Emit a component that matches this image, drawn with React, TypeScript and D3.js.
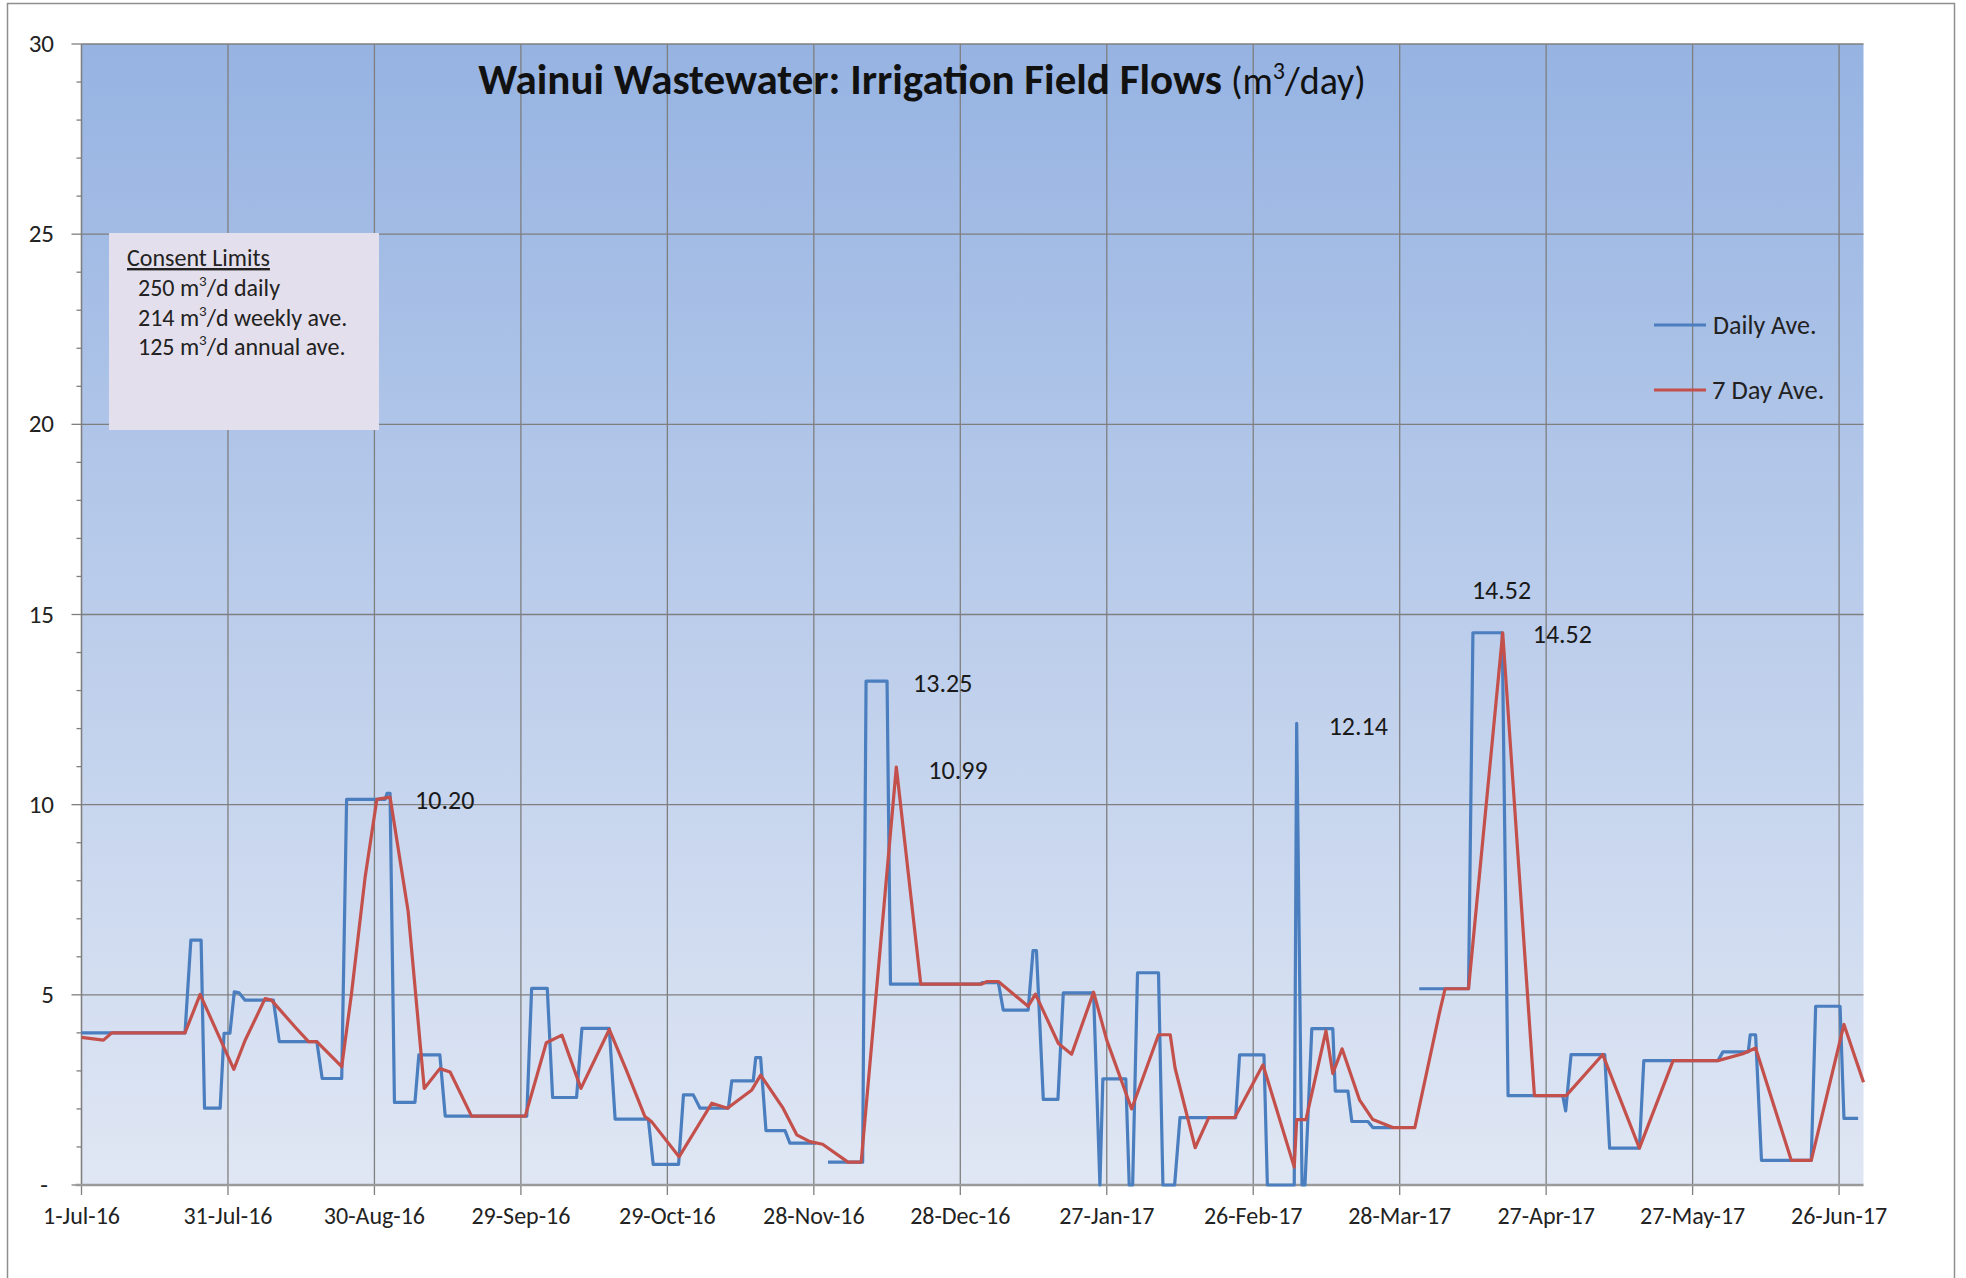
import React from "react";
import * as d3 from "d3";

// ---- data (day offsets from 1-Jul-16, values in m3/day) ----
const dailyDays = [0, 21.2, 22.4, 24.5, 25.2, 28.4, 29.2, 30.4, 31.3, 32.3, 33.5, 39.3, 40.5, 48.2, 49.3, 53.3, 54.3, 62.2, 62.6, 63.2, 64.1, 68.3, 69.1, 73.4, 74.5, 91.2, 92.2, 95.4, 96.5, 101.4, 102.5, 108.1, 109.3, 116.1, 117.1, 122.3, 123.3, 125.3, 126.7, 132.5, 133.2, 137.6, 138.1, 139.1, 140.2, 144.1, 145.1, 150.5, 151.7, 152.9, 160, 160.7, 165, 165.7, 184, 184.5, 187.8, 188.8, 193.9, 194.9, 195.6, 197, 200, 201.1, 207.3, 208.6, 209.2, 213.9, 214.6, 215.3, 216.3, 220.6, 221.5, 223.9, 225, 236.4, 237.2, 242.2, 242.9, 248.4, 248.9, 250, 250.6, 252, 256.3, 256.8, 259.4, 260.2, 263.5, 264.5, 268.6, 271, 274, 284.1, 285, 291, 292.2, 303.4, 304, 305.1, 312, 313, 319.1, 320, 335.2, 336.2, 341.4, 341.8, 342.9, 344.1, 354.3, 355.2, 360.2, 361, 363.9];
const dailyValues = [4.0, 4.0, 6.44, 6.44, 2.02, 2.02, 3.99, 3.99, 5.08, 5.05, 4.86, 4.86, 3.77, 3.77, 2.8, 2.8, 10.14, 10.14, 10.3, 10.3, 2.17, 2.17, 3.42, 3.42, 1.81, 1.81, 5.17, 5.17, 2.3, 2.3, 4.12, 4.12, 1.73, 1.73, 0.54, 0.54, 2.37, 2.37, 2.02, 2.02, 2.74, 2.74, 3.35, 3.35, 1.43, 1.43, 1.1, 1.1, null, 0.6, 0.6, 13.25, 13.25, 5.28, 5.28, 5.32, 5.32, 4.6, 4.6, 6.16, 6.16, 2.25, 2.25, 5.05, 5.05, 0, 2.79, 2.79, 0, 0, 5.58, 5.58, 0, 0, 1.77, 1.77, 3.42, 3.42, 0, 0, 12.14, 0, 0, 4.11, 4.11, 2.47, 2.47, 1.67, 1.67, 1.51, 1.51, null, 5.16, 5.16, 14.52, 14.52, 2.35, 2.35, 1.95, 3.43, 3.43, 0.97, 0.97, 3.27, 3.27, 3.5, 3.5, 3.95, 3.95, 0.65, 0.65, 4.7, 4.7, 1.75, 1.75];

const avgDays = [0, 4.5, 6.2, 21.2, 24.3, 31.2, 33.5, 37.6, 38.9, 43.7, 46.5, 48.2, 53.3, 55.3, 58.1, 60.5, 63.2, 66.9, 70.2, 73.4, 75.5, 79.9, 90.9, 95.2, 98.4, 102.3, 108.1, 111.6, 115.4, 116.8, 122.4, 129.1, 132.3, 137.3, 139.1, 143.7, 146.5, 149.2, 151.8, 157, 159.7, 166.9, 171.9, 184.3, 185.5, 187.8, 193.9, 195.4, 200.1, 202.8, 207.3, 210, 215.1, 220.6, 223, 224, 228.1, 230.9, 236.2, 242, 248.4, 248.9, 250.8, 254.9, 256.3, 258.2, 261.8, 264.5, 268.6, 273.1, 278.2, 279.3, 284.1, 291.1, 297.6, 304.1, 311.6, 319.1, 326, 335.2, 340.3, 342.9, 350.2, 354.3, 361, 365];
const avgValues = [3.88, 3.81, 4.0, 4.0, 5.01, 3.04, 3.8, 4.9, 4.86, 4.16, 3.77, 3.77, 3.11, 5.03, 8.1, 10.14, 10.2, 7.2, 2.54, 3.06, 2.97, 1.81, 1.81, 3.74, 3.94, 2.54, 4.09, 3.02, 1.8, 1.66, 0.74, 2.15, 2.02, 2.5, 2.89, 2.02, 1.32, 1.14, 1.07, 0.6, 0.6, 10.99, 5.28, 5.28, 5.35, 5.35, 4.7, 5.02, 3.72, 3.44, 5.07, 3.81, 2.0, 3.95, 3.95, 3.07, 0.98, 1.77, 1.77, 3.16, 0.47, 1.72, 1.72, 4.05, 2.93, 3.58, 2.23, 1.72, 1.51, 1.51, 4.56, 5.16, 5.16, 14.52, 2.35, 2.35, 3.43, 0.97, 3.27, 3.27, 3.45, 3.6, 0.65, 0.65, 4.22, 2.7];

const xTickDays = [0, 30, 60, 90, 120, 150, 180, 210, 240, 270, 300, 330, 360];
const xTickLabels = ["1-Jul-16", "31-Jul-16", "30-Aug-16", "29-Sep-16", "29-Oct-16", "28-Nov-16", "28-Dec-16", "27-Jan-17", "26-Feb-17", "28-Mar-17", "27-Apr-17", "27-May-17", "26-Jun-17"];
const yTicks = [0, 5, 10, 15, 20, 25, 30];
const yTickLabels = ["-", "5", "10", "15", "20", "25", "30"];
const yMinorTicks = [1, 2, 3, 4, 6, 7, 8, 9, 11, 12, 13, 14, 16, 17, 18, 19, 21, 22, 23, 24, 26, 27, 28, 29];

const dataLabels = [
  { day: 63.2, value: 10.2, text: "10.20", dx: 25, dy: 3 },
  { day: 165, value: 13.25, text: "13.25", dx: 26, dy: 2 },
  { day: 166.9, value: 10.99, text: "10.99", dx: 32, dy: 3 },
  { day: 248.9, value: 12.14, text: "12.14", dx: 32, dy: 3 },
  { day: 285, value: 14.52, text: "14.52", dx: -1, dy: -43 },
  { day: 291.1, value: 14.52, text: "14.52", dx: 30, dy: 1 },
];

const START = Date.UTC(2016, 6, 1);
const toDate = (d: number) => new Date(START + d * 86400000);

const W = 1966, H = 1278;
const PL = 81.5, PR = 1863.5, PT = 44, PB = 1185;
const FONT = "Carlito, Calibri, Lato, sans-serif";
const BLUE = "#4A7EBF";
const RED = "#C4504C";
const GRID = "#7f7f7f";

export default function App() {
  const x = d3.scaleUtc().domain([toDate(0), toDate(365)]).range([PL, PR]);
  const y = d3.scaleLinear().domain([0, 30]).range([PB, PT]);

  const daily = dailyDays.map((d, i) => [d, dailyValues[i]] as [number, number | null]);
  const avg = avgDays.map((d, i) => [d, avgValues[i]] as [number, number | null]);
  const line = d3
    .line<[number, number | null]>()
    .defined((p) => p[1] != null)
    .x((p) => x(toDate(p[0])))
    .y((p) => y(p[1] as number));

  return (
    <div style={{ position: "absolute", left: 0, top: 0 }}>
      <svg width={W} height={H} style={{ display: "block", fontFamily: FONT }}>
        <defs>
          <linearGradient id="bg" x1="0" y1="0" x2="0" y2="1">
            <stop offset="0" stopColor="#96B3E2" />
            <stop offset="1" stopColor="#E0E7F4" />
          </linearGradient>
        </defs>
        <rect x={0} y={0} width={W} height={H} fill="#fff" />
        <rect x={7.5} y={3.5} width={1947} height={1300} fill="none" stroke="#8e8e8e" strokeWidth={1.5} />
        <rect x={PL} y={PT} width={PR - PL} height={PB - PT} fill="url(#bg)" />

        {/* horizontal gridlines */}
        {yTicks.filter((t) => t > 0).map((t) => (
          <line key={"hg" + t} x1={PL} x2={PR} y1={y(t)} y2={y(t)} stroke={GRID} strokeWidth={1.3} />
        ))}
        {/* vertical gridlines + ticks */}
        {xTickDays.map((d) => (
          <line key={"vg" + d} x1={x(toDate(d))} x2={x(toDate(d))} y1={PT} y2={PB + 10} stroke={GRID} strokeWidth={1.3} />
        ))}
        {/* y axis */}
        <line x1={PL} x2={PL} y1={PT} y2={PB} stroke={GRID} strokeWidth={1.3} />
        {yTicks.map((t) => (
          <line key={"yt" + t} x1={PL - 10} x2={PL} y1={y(t)} y2={y(t)} stroke={GRID} strokeWidth={1.3} />
        ))}
        {yMinorTicks.map((t) => (
          <line key={"ym" + t} x1={PL - 5} x2={PL} y1={y(t)} y2={y(t)} stroke={GRID} strokeWidth={1.3} />
        ))}
        {yTicks.map((t, i) => (
          <text key={"yl" + t} x={i === 0 ? 48 : 54} y={y(t) + 8} textAnchor="end" fontSize={25} fill="#222">
            {yTickLabels[i]}
          </text>
        ))}
        {/* x axis */}
        <line x1={PL - 6} x2={PR} y1={PB} y2={PB} stroke="#9a9a9a" strokeWidth={2.5} />
        {xTickDays.map((d, i) => (
          <text key={"xl" + d} x={x(toDate(d))} y={1224} textAnchor="middle" fontSize={24} fill="#222">
            {xTickLabels[i]}
          </text>
        ))}

        {/* series */}
        <path d={line(daily) || ""} fill="none" stroke={BLUE} strokeWidth={3.2} strokeLinejoin="round" />
        <path d={line(avg) || ""} fill="none" stroke={RED} strokeWidth={3.2} strokeLinejoin="round" />

        {/* data labels */}
        {dataLabels.map((l, i) => (
          <text key={"dl" + i} x={x(toDate(l.day)) + l.dx} y={y(l.value) + l.dy + 9} fontSize={26} fill="#1a1a1a">
            {l.text}
          </text>
        ))}

        {/* title */}
        <text x={922} y={94} textAnchor="middle" fill="#111">
          <tspan fontWeight="bold" fontSize={43}>Wainui Wastewater: Irrigation Field Flows</tspan>
          <tspan fontSize={38} dx={9}>(m</tspan>
          <tspan fontSize={24} dy={-15}>3</tspan>
          <tspan fontSize={38} dy={15}>/day)</tspan>
        </text>

        {/* consent limits box */}
        <rect x={109} y={233} width={270} height={197} fill="#E4DFEC" />
        <text x={127} y={266} fontSize={24} fill="#222" textDecoration="underline">Consent Limits</text>
        {[
          ["250 m", "/d daily"],
          ["214 m", "/d weekly ave."],
          ["125 m", "/d annual ave."],
        ].map((p, i) => (
          <text key={"cl" + i} x={138} y={296 + i * 29.5} fontSize={24} fill="#222">
            {p[0]}
            <tspan fontSize={15} dy={-10}>3</tspan>
            <tspan dy={10}>{p[1]}</tspan>
          </text>
        ))}

        {/* legend */}
        <line x1={1654} x2={1706} y1={325} y2={325} stroke={BLUE} strokeWidth={3} />
        <text x={1713} y={334} fontSize={26} fill="#222">Daily Ave.</text>
        <line x1={1654} x2={1706} y1={390} y2={390} stroke={RED} strokeWidth={3} />
        <text x={1712} y={399} fontSize={26.5} fill="#222">7 Day Ave.</text>
      </svg>
    </div>
  );
}
